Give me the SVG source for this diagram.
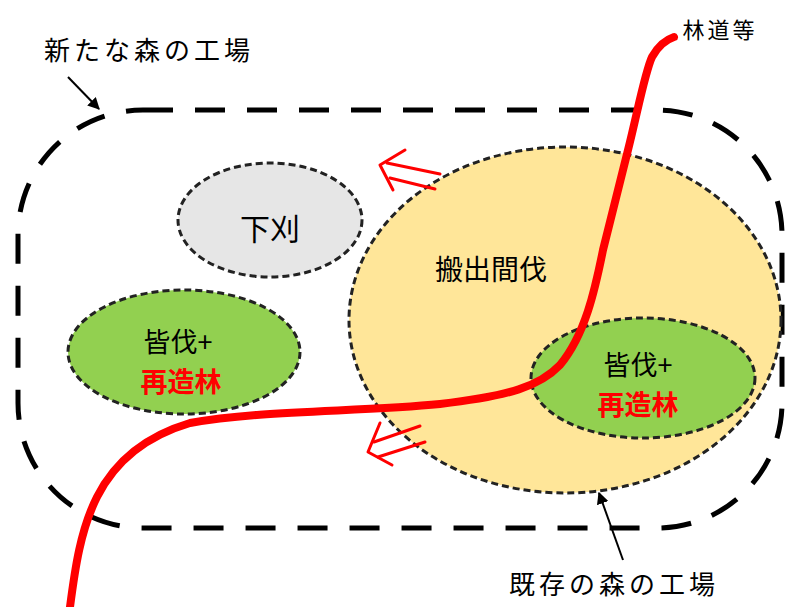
<svg xmlns="http://www.w3.org/2000/svg" width="795" height="607" viewBox="0 0 795 607">
<style>
.lbl{font-family:"Noto Sans CJK JP","Noto Sans CJK SC",sans-serif;fill:#000;text-anchor:middle}
.red{font-family:"Noto Sans CJK JP","Noto Sans CJK SC",sans-serif;fill:#FF0000;font-weight:bold;text-anchor:middle}
.node{stroke:#222;stroke-width:3;stroke-dasharray:7 4}
.rarrow{fill:none;stroke:#FF0000;stroke-width:3;stroke-linecap:round;stroke-linejoin:round}
</style>
<defs>
<marker id="ah" viewBox="0 0 10 10" refX="9" refY="5" markerWidth="6" markerHeight="6" orient="auto">
<path d="M0,0 L10,5 L0,10 z" fill="#000"/>
</marker>
</defs>
<rect width="795" height="607" fill="#fff"/>
<g id="new-factory">
<rect x="18" y="110" width="764" height="418" rx="125" ry="125" fill="none" stroke="#000" stroke-width="5" stroke-dasharray="30 22"/>
</g>
<g id="existing-factory">
<ellipse cx="565" cy="320" rx="216" ry="173" fill="#FFE699" class="node"/>
<text class="lbl" x="491" y="280" font-size="28">搬出間伐</text>
</g>
<g id="shitagari">
<ellipse cx="270" cy="220" rx="92" ry="57" fill="#E6E6E6" class="node"/>
<text class="lbl" x="270" y="240" font-size="30">下刈</text>
</g>
<g id="left-clearcut">
<ellipse cx="184" cy="352" rx="116" ry="62" fill="#92D050" class="node"/>
<text class="lbl" x="178" y="352" font-size="27">皆伐+</text>
<text class="red" x="181" y="392" font-size="27">再造林</text>
</g>
<g id="right-clearcut">
<ellipse cx="643" cy="378" rx="112" ry="60" fill="#92D050" class="node"/>
<text class="lbl" x="638" y="375" font-size="27">皆伐+</text>
<text class="red" x="638" y="415" font-size="27">再造林</text>
</g>
<g id="connectors">
<path d="M70,607 C80,530 92,452 190,423 C260,410 360,412 440,404 C510,396 540,386 560,365 C585,335 595,290 603,250 L628,150 C638,110 645,72 652,57 C658,46 665,40 674,37" fill="none" stroke="#FF0000" stroke-width="8" stroke-linecap="round"/>
<g class="rarrow">
<path d="M440,174 L387,163"/>
<path d="M435,189 L390,178"/>
<path d="M405,150 L380,165 L393,190"/>
<path d="M420,426 L374,442"/>
<path d="M425,442 L378,457"/>
<path d="M380,423 L368,452 L392,465"/>
</g>
<path d="M68,77 L99,109" stroke="#000" stroke-width="2" fill="none" marker-end="url(#ah)"/>
<path d="M623,560 L599,493" stroke="#000" stroke-width="2" fill="none" marker-end="url(#ah)"/>
</g>
<g id="labels">
<text class="lbl" x="149" y="60" font-size="26" letter-spacing="4">新たな森の工場</text>
<text class="lbl" x="614" y="594" font-size="26" letter-spacing="4">既存の森の工場</text>
<text class="lbl" x="720" y="38" font-size="22" letter-spacing="3">林道等</text>
</g>
</svg>
